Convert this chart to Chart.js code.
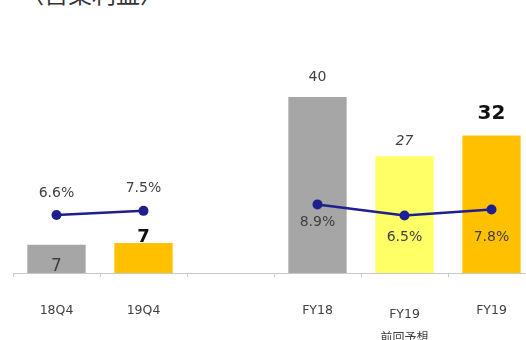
<!DOCTYPE html>
<html lang="ja">
<head>
<meta charset="UTF-8">
<title>営業利益</title>
<script src="https://cdn.jsdelivr.net/npm/chart.js"></script>
<style>
  html, body { margin: 0; padding: 0; background: #fff; overflow: hidden; }
  .wrap { position: relative; width: 526px; height: 340px; overflow: hidden; }
  .title {
    position: absolute; left: 20px; top: -19px;
    font: 24px "Noto Sans CJK JP", sans-serif; color: #333; line-height: 24px;
  }
  canvas { position: absolute; left: 0; top: 0; }
</style>
</head>
<body>
<div class="wrap">
  <div class="title">〈営業利益〉</div>
  <canvas id="chart" width="550" height="340"></canvas>
</div>
<script>
// data
const categories = [['18Q4'], ['19Q4'], [''], ['FY18'], ['FY19', '前回予想'], ['FY19']];
const profit = [6.5, 6.9, null, 40.4, 26.8, 31.6];
const margin = [6.6, 7.5, null, 8.9, 6.5, 7.8];

// looks
const barColors = ['#a6a6a6', '#ffc000', 'rgba(0,0,0,0)', '#a6a6a6', '#ffff66', '#ffc000'];
const barLabelStyle = [
  { dy: 22, font: '17px "DejaVu Sans"', color: '#404040' },
  { dy: -6, font: 'bold 18px "DejaVu Sans"', color: '#111' },
  null,
  { dy: -20, font: '14px "DejaVu Sans"', color: '#404040' },
  { dy: -15, font: 'italic 14px "DejaVu Sans"', color: '#404040' },
  { dy: -22, font: 'bold 20px "DejaVu Sans"', color: '#111' }
];
const marginLabelDy = [-22, -22, 0, 18, 22, 28];
const lineColor = '#1f1f8f';

const labelPlugin = {
  id: 'labels',
  afterDatasetsDraw(chart) {
    const ctx = chart.ctx;
    const x = chart.scales.x;
    const bars = chart.getDatasetMeta(1).data;
    const pts = chart.getDatasetMeta(0).data;
    ctx.save();
    ctx.textAlign = 'center';
    ctx.textBaseline = 'middle';
    profit.forEach((v, i) => {
      if (v == null) return;
      const s = barLabelStyle[i];
      ctx.font = s.font;
      ctx.fillStyle = s.color;
      ctx.fillText(String(Math.round(v)), bars[i].x, bars[i].y + s.dy);
    });
    ctx.font = '14px "DejaVu Sans"';
    ctx.fillStyle = '#404040';
    margin.forEach((v, i) => {
      if (v == null) return;
      ctx.fillText(v.toFixed(1) + '%', pts[i].x, pts[i].y + marginLabelDy[i]);
    });
    const base = chart.chartArea.bottom;
    categories.forEach((lines, i) => {
      const cx = x.getPixelForValue(i);
      ctx.font = '12.5px "DejaVu Sans"';
      ctx.fillStyle = '#404040';
      if (lines.length > 1) {
        ctx.fillText(lines[0], cx, base + 42);
        ctx.font = '12px "Noto Sans CJK JP"';
        ctx.fillText(lines[1], cx, base + 64);
      } else {
        ctx.fillText(lines[0], cx, base + 38);
      }
    });
    ctx.restore();
  }
};

new Chart(document.getElementById('chart'), {
  data: {
    labels: categories.map(c => c.join(' ')),
    datasets: [
      {
        type: 'line',
        data: margin,
        yAxisID: 'y2',
        borderColor: lineColor,
        backgroundColor: lineColor,
        borderWidth: 2.5,
        pointRadius: 5,
        pointBackgroundColor: lineColor,
        pointBorderWidth: 0,
        spanGaps: false,
        order: 0
      },
      {
        type: 'bar',
        data: profit,
        yAxisID: 'y',
        backgroundColor: barColors,
        barPercentage: 0.67,
        categoryPercentage: 1.0,
        order: 1
      }
    ]
  },
  options: {
    responsive: false,
    animation: false,
    devicePixelRatio: 1,
    layout: { padding: { left: 13, right: 15, top: 64, bottom: 63 } },
    plugins: { legend: { display: false }, tooltip: { enabled: false } },
    scales: {
      x: {
        offset: true,
        ticks: { display: false },
        grid: { display: true, drawOnChartArea: false, drawTicks: true, tickLength: 4, color: '#c8c8c8', offset: true },
        border: { display: true, color: '#c8c8c8', width: 1 }
      },
      y: { display: false, min: 0, max: 48 },
      y2: { display: false, min: -6, max: 39.4 }
    }
  },
  plugins: [labelPlugin]
});
</script>
</body>
</html>
